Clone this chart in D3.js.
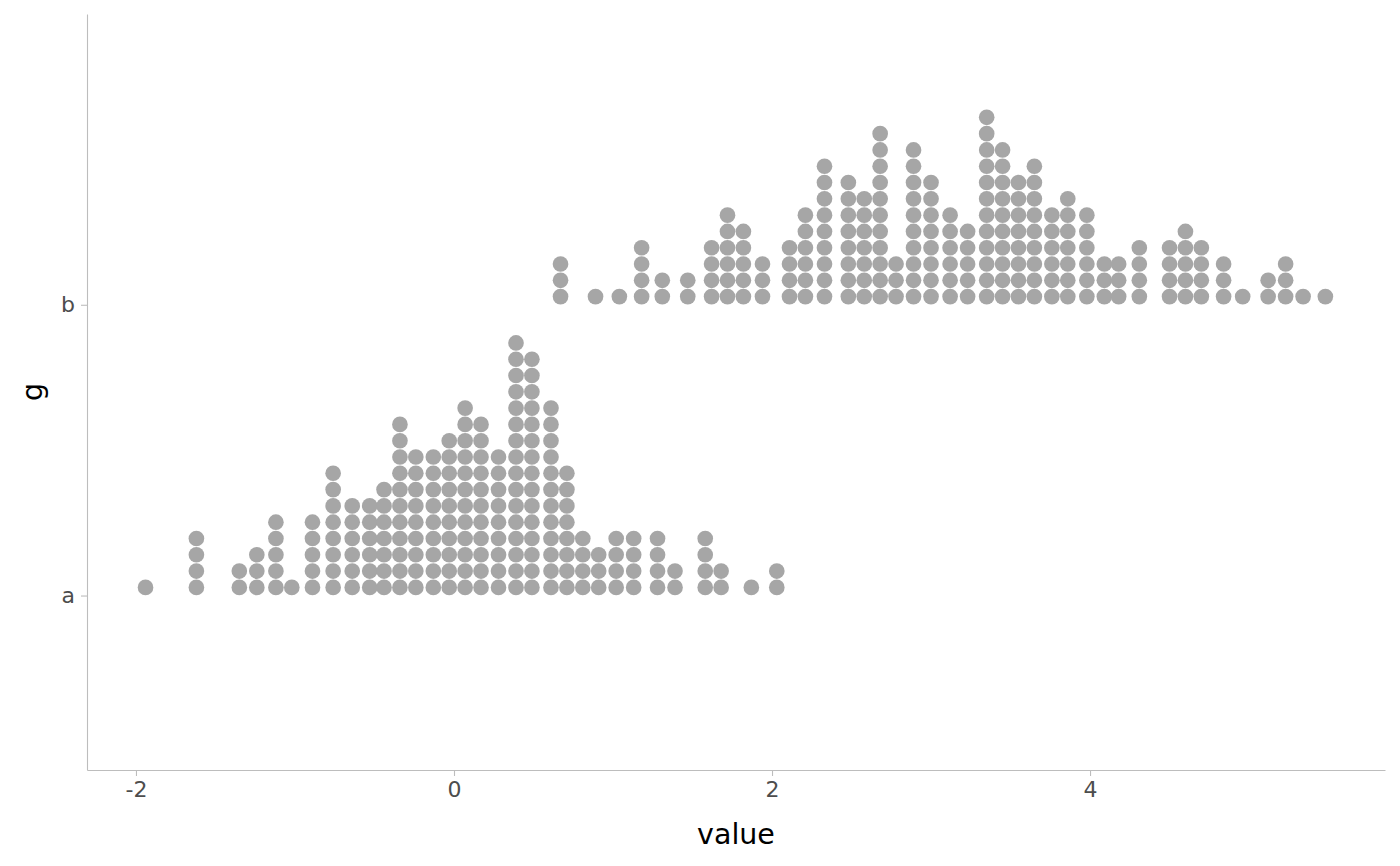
<!DOCTYPE html>
<html>
<head>
<meta charset="utf-8">
<script src="https://cdn.jsdelivr.net/npm/d3@7"></script>
<style>
    body { margin: 0; background: #fff; }
    text { font-family: "DejaVu Sans", sans-serif; }
</style>
</head>
<body>
<div id="chart"></div>
<script>
// groups on the y axis
const groups = ["a", "b"];

// stack centres (value) and dot counts per stack, group a
const binsA = [-1.94, -1.62, -1.35, -1.24, -1.12, -1.02, -0.89, -0.76, -0.64, -0.53, -0.44, -0.34,
    -0.24, -0.13, -0.03, 0.07, 0.17, 0.28, 0.39, 0.49, 0.61, 0.71, 0.81, 0.91, 1.02, 1.13,
    1.28, 1.39, 1.58, 1.68, 1.87, 2.03];
const countsA = [1, 4, 2, 3, 5, 1, 5, 8, 6, 6, 7, 11, 9, 9, 10, 12, 11, 9, 16, 15, 12, 8, 4, 3, 4, 4,
    4, 2, 4, 2, 1, 2];

// group b
const binsB = [0.67, 0.89, 1.04, 1.18, 1.31, 1.47, 1.62, 1.72, 1.82, 1.94, 2.11, 2.21, 2.33, 2.48,
    2.58, 2.68, 2.78, 2.89, 3.00, 3.12, 3.23, 3.35, 3.45, 3.55, 3.65, 3.76, 3.86, 3.98, 4.09,
    4.18, 4.31, 4.50, 4.60, 4.70, 4.84, 4.96, 5.12, 5.23, 5.34, 5.48];
const countsB = [3, 1, 1, 4, 2, 2, 4, 6, 5, 3, 4, 6, 9, 8, 7, 11, 3, 10, 8, 6, 5, 12, 10, 8, 9, 6, 7,
    6, 3, 3, 4, 4, 5, 4, 3, 1, 2, 3, 1, 1];

const xTicks = [-2, 0, 2, 4];
const binwidth = 0.1025;

class DotPlot {
    constructor(parentElement) {
        this.parentElement = parentElement;
        this.displayData = [];

        // one record per dot, stacked upward from the group baseline
        [[binsA, countsA, "a"], [binsB, countsB, "b"]].forEach(([bins, counts, g]) => {
            bins.forEach((x, i) => {
                for (let k = 0; k < counts[i]; k++) {
                    this.displayData.push({x: x, g: g, k: k});
                }
            });
        });

        this.initVis();
    }

    initVis() {
        let vis = this;

        vis.margin = {top: 14, right: 15, bottom: 96, left: 87};
        vis.width = 1400 - vis.margin.left - vis.margin.right;
        vis.height = 866 - vis.margin.top - vis.margin.bottom;

        vis.svg = d3.select("#" + vis.parentElement).append("svg")
            .attr("width", 1400)
            .attr("height", 866)
            .append("g")
            .attr("transform", `translate(${vis.margin.left}, ${vis.margin.top})`);

        vis.x = d3.scaleLinear()
            .domain([-2.308, 5.855])
            .range([0, vis.width]);

        // discrete groups placed at 1, 2 with ggplot-like padding
        vis.yPos = d3.scaleLinear()
            .domain([0.4, 3.0])
            .range([vis.height, 0]);
        vis.y = g => vis.yPos(groups.indexOf(g) + 1);

        vis.updateVis();
    }

    updateVis() {
        let vis = this;

        let step = vis.x(binwidth) - vis.x(0);
        let r = step / 2 * 0.96;

        vis.svg.selectAll(".dot")
            .data(vis.displayData)
            .enter().append("circle")
            .attr("class", "dot")
            .attr("cx", d => vis.x(d.x))
            .attr("cy", d => vis.y(d.g) - step / 2 - d.k * step)
            .attr("r", r)
            .attr("fill", "#a6a6a6");

        // x axis
        let xAxis = vis.svg.append("g")
            .attr("transform", `translate(0, ${vis.height})`)
            .call(d3.axisBottom(vis.x).tickValues(xTicks).tickFormat(d => String(d))
                .tickSizeInner(6).tickSizeOuter(0).tickPadding(5));

        // y axis
        let yAxis = vis.svg.append("g")
            .call(d3.axisLeft(vis.yPos).tickValues([1, 2]).tickFormat(d => groups[d - 1])
                .tickSizeInner(6).tickSizeOuter(0).tickPadding(6));

        [xAxis, yAxis].forEach(ax => {
            ax.select(".domain").attr("stroke", "#bdbdbd").attr("stroke-width", 1.1);
            ax.selectAll(".tick line").attr("stroke", "#bdbdbd").attr("stroke-width", 1.1);
            ax.selectAll(".tick text")
                .attr("fill", "#4d4d4d")
                .attr("font-size", "22px")
                .attr("font-family", "DejaVu Sans, sans-serif");
        });

        // axis titles
        vis.svg.append("text")
            .attr("x", vis.width / 2)
            .attr("y", 844 - vis.margin.top)
            .attr("text-anchor", "middle")
            .attr("font-size", "28.5px")
            .attr("fill", "#000")
            .text("value");

        vis.svg.append("text")
            .attr("transform", `translate(${42 - vis.margin.left}, ${vis.height / 2}) rotate(-90)`)
            .attr("text-anchor", "middle")
            .attr("font-size", "28.5px")
            .attr("fill", "#000")
            .text("g");
    }
}

new DotPlot("chart");
</script>
</body>
</html>
